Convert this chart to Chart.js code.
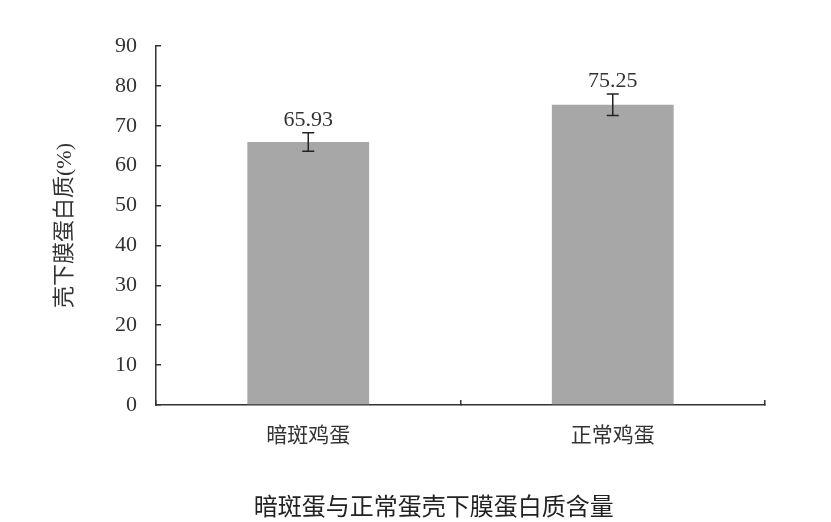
<!DOCTYPE html>
<html>
<head>
<meta charset="utf-8">
<script src="https://cdn.jsdelivr.net/npm/chart.js@4"></script>
<style>
  html, body { margin: 0; padding: 0; background: #fff; }
  #wrap { width: 831px; height: 522px; }
</style>
</head>
<body>
<div id="wrap"><canvas id="c" width="831" height="522"></canvas></div>
<script>
const categories = ["暗斑鸡蛋", "正常鸡蛋"];
const values = [65.93, 75.25];
const errors = [2.3, 2.7];
const yTicks = [0, 10, 20, 30, 40, 50, 60, 70, 80, 90];
const caption = "暗斑蛋与正常蛋壳下膜蛋白质含量";

const fontFamily = '"Liberation Serif", "Noto Sans CJK SC", serif';
const ink = "#333";

// error bars + value labels on top of the bars, caption under the chart
const errorBars = {
  id: "errorBars",
  afterDatasetsDraw(chart) {
    const ctx = chart.ctx;
    const y = chart.scales.y;
    const meta = chart.getDatasetMeta(0);
    ctx.save();
    ctx.strokeStyle = "#222";
    ctx.lineWidth = 1.5;
    meta.data.forEach((bar, i) => {
      const top = y.getPixelForValue(values[i] + errors[i]);
      const bot = y.getPixelForValue(values[i] - errors[i]);
      ctx.beginPath();
      ctx.moveTo(bar.x, top);
      ctx.lineTo(bar.x, bot);
      ctx.moveTo(bar.x - 6, top);
      ctx.lineTo(bar.x + 6, top);
      ctx.moveTo(bar.x - 6, bot);
      ctx.lineTo(bar.x + 6, bot);
      ctx.stroke();
      ctx.fillStyle = ink;
      ctx.font = "22px " + fontFamily;
      ctx.textAlign = "center";
      ctx.textBaseline = "bottom";
      ctx.fillText(values[i].toFixed(2), bar.x, top - 2);
    });
    ctx.fillStyle = "#222";
    ctx.font = "24px " + fontFamily;
    ctx.textAlign = "center";
    ctx.textBaseline = "middle";
    ctx.fillText(caption, chart.width * 0.522, chart.height - 13);
    ctx.restore();
  }
};

new Chart(document.getElementById("c").getContext("2d"), {
  type: "bar",
  data: {
    labels: categories,
    datasets: [{
      data: values,
      backgroundColor: "#a7a7a7",
      borderWidth: 0,
      barPercentage: 0.8,
      categoryPercentage: 0.5
    }]
  },
  options: {
    responsive: false,
    animation: false,
    devicePixelRatio: 1,
    layout: { padding: { top: 46, right: 66, left: 0, bottom: 0 } },
    plugins: { legend: { display: false }, tooltip: { enabled: false } },
    scales: {
      y: {
        min: 0,
        max: 90,
        afterFit(s) { s.width = 156; },
        afterBuildTicks(s) { s.ticks = yTicks.map(v => ({ value: v })); },
        border: { display: true, color: ink, width: 1.5 },
        grid: { drawOnChartArea: false, drawTicks: true, tickLength: -5, color: ink, lineWidth: 1.5 },
        ticks: { color: ink, font: { family: fontFamily, size: 22 }, padding: 24 },
        title: {
          display: true,
          text: "壳下膜蛋白质(%)",
          color: ink,
          font: { family: fontFamily, size: 22 },
          padding: { top: 52, bottom: 0 }
        }
      },
      x: {
        afterFit(s) { s.height = 117; },
        border: { display: true, color: ink, width: 1.5 },
        grid: { drawOnChartArea: false, drawTicks: true, tickLength: -5, color: ink, lineWidth: 1.5 },
        ticks: { color: ink, font: { family: fontFamily, size: 21 }, padding: 24 }
      }
    }
  },
  plugins: [errorBars]
});
</script>
</body>
</html>
